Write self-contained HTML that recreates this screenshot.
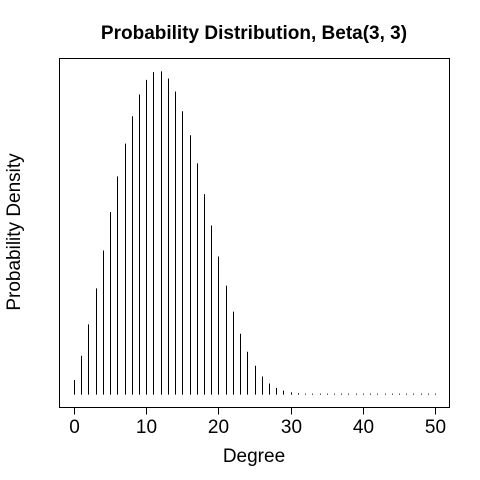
<!DOCTYPE html>
<html><head><meta charset="utf-8"><style>
html,body{margin:0;padding:0;background:#fff;width:480px;height:480px;overflow:hidden}
text{font-family:"Liberation Sans",sans-serif}
</style></head><body>
<svg id="chart" width="480" height="480" viewBox="0 0 480 480">
<text x="254" y="39" text-anchor="middle" font-size="19" font-weight="bold">Probability Distribution, Beta(3, 3)</text>
<text x="254" y="462" text-anchor="middle" font-size="19">Degree</text>
<text transform="translate(15,232) rotate(-90)" x="0" y="0" text-anchor="middle" dominant-baseline="middle" font-size="19">Probability Density</text>
<rect x="59.5" y="58.5" width="390" height="349" fill="none" stroke="#000" stroke-width="1"/>
<g id="bars"></g>
<g id="xaxis"></g>
</svg>
<script>
const degrees = Array.from({length:51},(_,i)=>i);
const densities = [14.4,38.7,70,106,143.7,182,217.7,250.4,277.7,299.4,314,321.7,322.4,315.4,302.4,282.7,258.7,230.7,200,168.7,137.7,108.7,82.7,60.7,42.7,28.7,18,11,6.7,4,2.2,1.3,1,1,1,1,1,1,1,1,1,1,1,1,1,1,1,1,1,1,1];
const xTicks = [0,10,20,30,40,50];
const L=59.5,R=449.5,T=58.5,B=407.5;
const xmin=0,xmax=50,xp=(xmax-xmin)*0.04;
const ymax=Math.max(...densities),yp=ymax*0.04;
const xs=v=>L+(v-(xmin-xp))/((xmax+xp)-(xmin-xp))*(R-L);
const ys=v=>B-(v-(-yp))/((ymax+yp)-(-yp))*(B-T);
const ns="http://www.w3.org/2000/svg";
const bars=document.getElementById('bars');
degrees.forEach((d,i)=>{
 const l=document.createElementNS(ns,'line');
 const x=Math.round(xs(d))+0.5;
 l.setAttribute('x1',x);l.setAttribute('x2',x);
 l.setAttribute('y1',ys(0));l.setAttribute('y2',ys(densities[i]));
 l.setAttribute('stroke','#000');l.setAttribute('stroke-width','1');
 
 
 bars.appendChild(l);
});
const ax=document.getElementById('xaxis');
xTicks.forEach(t=>{
 const x=Math.round(xs(t))+0.5;
 const l=document.createElementNS(ns,'line');
 l.setAttribute('x1',x);l.setAttribute('x2',x);l.setAttribute('y1',B);l.setAttribute('y2',B+7);
 l.setAttribute('stroke','#000');
 
 
 ax.appendChild(l);
 const tx=document.createElementNS(ns,'text');
 tx.setAttribute('x',x);tx.setAttribute('y',433);tx.setAttribute('text-anchor','middle');tx.setAttribute('font-size','19');
 tx.textContent=t;
 
 
 ax.appendChild(tx);
});
</script>
</body></html>
